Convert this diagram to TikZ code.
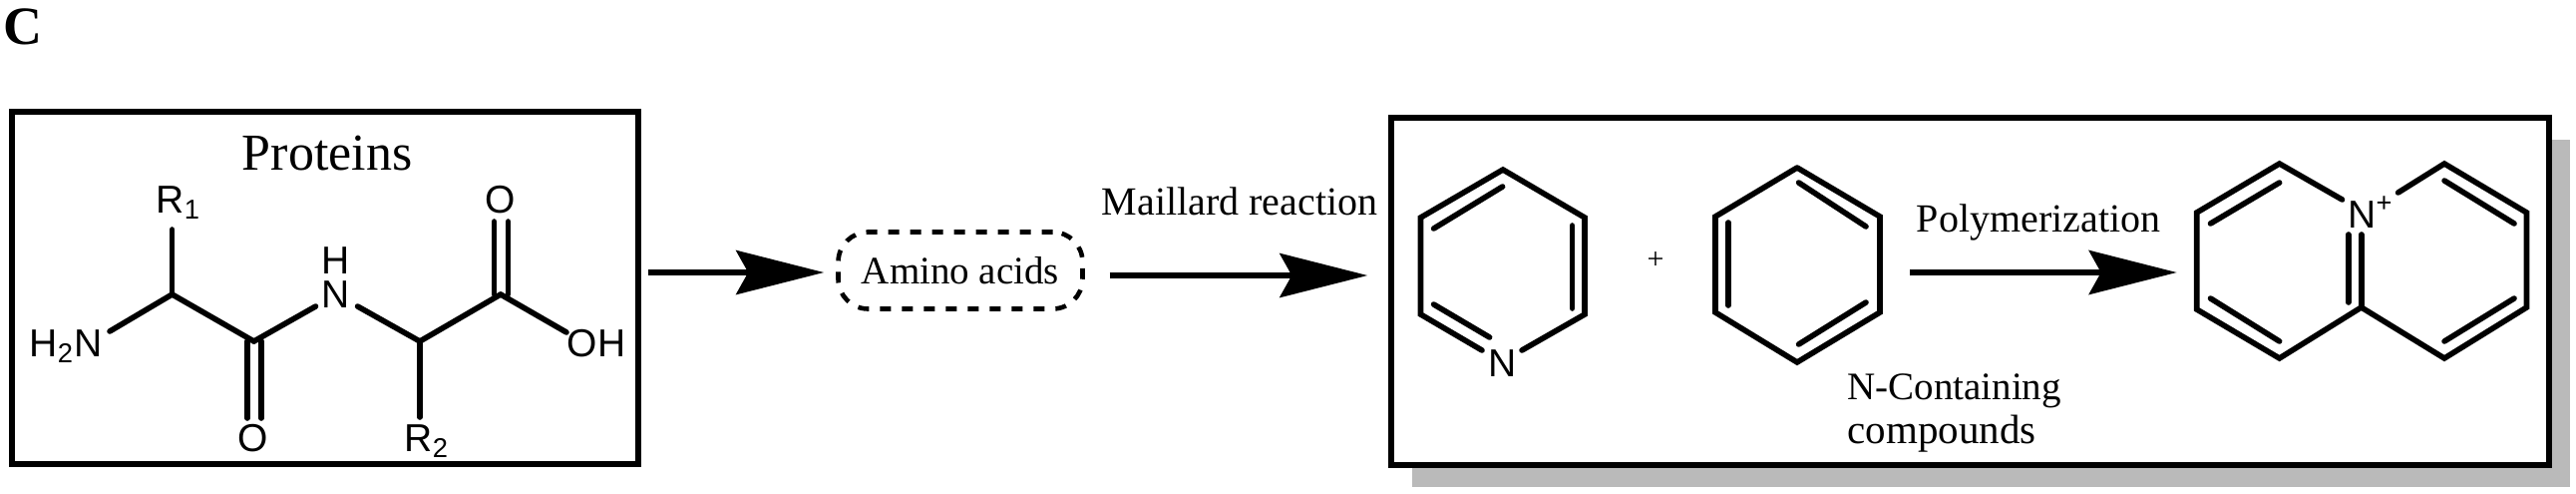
\documentclass[tikz,border=0pt]{standalone}
\usepackage{fontspec}
\setmainfont{Liberation Serif}
\setsansfont{Liberation Sans}
\usetikzlibrary{arrows.meta,shadows}
\tikzset{
  frame/.style={draw, line width=2.7pt, inner sep=0pt},
  bond/.style={line width=2.8pt, line cap=round},
  flow/.style={line width=3pt, -{Stealth[length=44pt,width=22pt,inset=6pt]}},
  atom/.style={anchor=base, inner sep=0pt, font=\sffamily\fontsize{19.5}{23}\selectfont},
  caption/.style={anchor=base, inner sep=0pt, font=\fontsize{20}{24}\selectfont}
}
\begin{document}
\begin{tikzpicture}[x=0.5pt, y=-0.5pt]
          \useasboundingbox (0, 0) rectangle (2583, 494);
          \node[anchor=base, inner sep=0pt, font=\bfseries\fontsize{27}{32}\selectfont] (panel) at (23, 44) {C};
          \node[frame, minimum width=314pt, minimum height=176.5pt] (protbox) at (326, 288.5) {};
          \node[frame, fill=white, minimum width=580.5pt, minimum height=174pt,
            drop shadow={shadow xshift=10.5pt, shadow yshift=-11pt, fill=black!27, opacity=1}] (ringbox) at (1975.5, 292) {};
          \node[caption, font=\fontsize{26}{31}\selectfont] (proteins) at (328, 170) {Proteins};
          \node[draw, line width=2.3pt, dash pattern=on 5.5pt off 5.5pt, rounded corners=15pt, inner sep=0pt,
            minimum width=122.5pt, minimum height=38.5pt, font=\fontsize{19.5}{23}\selectfont] (amino) at (963, 271) {Amino acids};
          \node[caption] (maillard) at (1243, 215) {Maillard reaction};
          \node[caption] (polym) at (2044, 232) {Polymerization};
          \node[caption, anchor=base west, font=\fontsize{19.5}{23}\selectfont] (ncont) at (1852, 400) {N-Containing};
          \node[caption, anchor=base west, font=\fontsize{20.5}{25}\selectfont] (comp) at (1852, 444) {compounds};
          \node[caption, font=\fontsize{15}{18}\selectfont] (plus) at (1660, 269) {+};
          \node[atom] (rone) at (179, 213) {R\textsubscript{1}};
          \node[atom] (htwon) at (66, 357) {H\textsubscript{2}N};
          \node[atom] (otop) at (502, 213) {O};
          \node[atom] (obot) at (254, 452) {O};
          \node[atom] (hyd) at (337, 274) {H};
          \node[atom] (nit) at (337, 308) {N};
          \node[atom] (rtwo) at (428, 452) {R\textsubscript{2}};
          \node[atom] (oh) at (598, 357) {OH};
          \node[atom] (pyrn) at (1507, 377) {N};
          \node[atom] (quin) at (2377, 228) {N\textsuperscript{+}};
          \coordinate (rbond) at (172.6, 230);
          \coordinate (cone) at (172.6, 295);
          \coordinate (nbond) at (110, 332);
          \coordinate (ctwo) at (254.6, 342);
          \coordinate (nl) at (316.5, 307);
          \coordinate (nr) at (358.6, 307);
          \coordinate (cthree) at (421, 342);
          \coordinate (rtbond) at (421, 418);
          \coordinate (cfour) at (502, 295);
          \coordinate (ohbond) at (568, 333);
          \draw[bond] (rbond) to (cone);
          \draw[bond] (nbond) to (cone);
          \draw[bond] (cone) to (ctwo);
          \draw[bond] (ctwo) to (nl);
          \draw[bond] (nr) to (cthree);
          \draw[bond] (cthree) to (rtbond);
          \draw[bond] (cthree) to (cfour);
          \draw[bond] (cfour) to (ohbond);
          \draw[bond] (248, 342) to (248, 419);
          \draw[bond] (262, 342) to (262, 419);
          \draw[bond] (495.5, 295) to (495.5, 222);
          \draw[bond] (509.5, 295) to (509.5, 222);
          \coordinate (pa) at (1507, 170);
          \coordinate (pb) at (1589, 218);
          \coordinate (pc) at (1589, 315);
          \coordinate (pd) at (1526, 351);
          \coordinate (pe) at (1486, 351);
          \coordinate (pf) at (1424.5, 315);
          \coordinate (pg) at (1424.5, 218);
          \draw[bond, line join=miter] (pd) to (pc) to (pb) to (pa) to (pg) to (pf) to (pe);
          \draw[bond] (1437.6, 229) to (1506.6, 187);
          \draw[bond] (1576.5, 226) to (1576.5, 309);
          \draw[bond] (1437.6, 305) to (1493.6, 338);
          \coordinate (ba) at (1802, 168);
          \coordinate (bb) at (1885, 217);
          \coordinate (bc) at (1885, 313);
          \coordinate (bd) at (1802, 363);
          \coordinate (be) at (1720, 313);
          \coordinate (bf) at (1720, 217);
          \draw[bond, line join=miter] (ba) to (bb) to (bc) to (bd) to (be) to (bf) to (ba);
          \draw[bond] (1803.6, 183) to (1871, 227);
          \draw[bond] (1733, 223) to (1733, 306);
          \draw[bond] (1803.6, 345) to (1871, 303);
          \coordinate (qa) at (2348.5, 200);
          \coordinate (qb) at (2285.6, 164);
          \coordinate (qc) at (2202.7, 213);
          \coordinate (qd) at (2202.7, 310);
          \coordinate (qe) at (2285.6, 359);
          \coordinate (qf) at (2367.7, 308);
          \coordinate (qg) at (2451, 359);
          \coordinate (qh) at (2533.5, 308);
          \coordinate (qi) at (2533.5, 213);
          \coordinate (qj) at (2451, 164);
          \coordinate (qk) at (2404.6, 193);
          \coordinate (ql) at (2367.7, 235);
          \draw[bond, line join=miter] (qa) to (qb) to (qc) to (qd) to (qe) to (qf) to (qg) to (qh) to (qi) to (qj) to (qk);
          \draw[bond] (ql) to (qf);
          \draw[bond] (2354.7, 235) to (2354.7, 303);
          \draw[bond] (2216.5, 224) to (2285.6, 183);
          \draw[bond] (2216.5, 299) to (2285.6, 342);
          \draw[bond] (2451, 181) to (2521, 224);
          \draw[bond] (2451, 342) to (2521, 299);
          \draw[flow, shorten <=3.5pt, shorten >=6pt] ([yshift=-1pt]protbox.east |- amino.west) to ([yshift=-1pt]amino.west);
          \draw[flow, shorten <=12.5pt, shorten >=10.5pt] ([yshift=-2.5pt]amino.east) to ([yshift=-2.5pt]ringbox.west |- amino.east);
          \coordinate (beast) at (1885, 273);
          \coordinate (qwest) at (2202.7, 273);
          \draw[flow, shorten <=15pt, shorten >=10pt] (beast) to (qwest);
        \end{tikzpicture}
\end{document}
